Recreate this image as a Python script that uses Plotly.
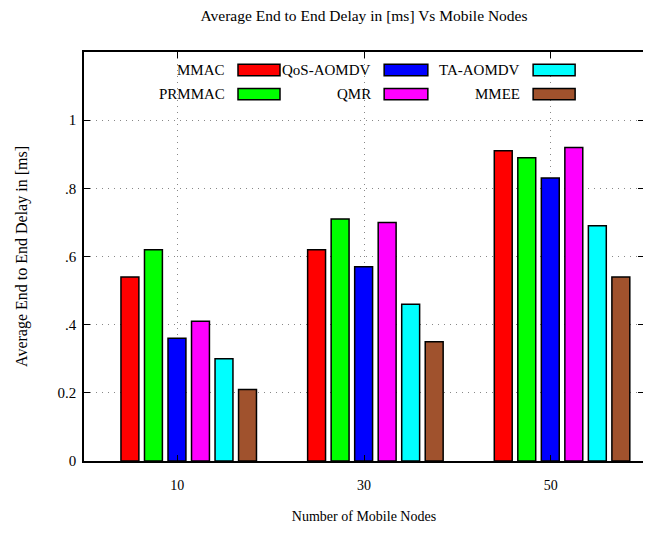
import plotly.graph_objects as go

categories = ["10", "30", "50"]
series_names = ["MMAC", "PRMMAC", "QoS-AOMDV", "QMR", "TA-AOMDV", "MMEE"]
mmac = [0.54, 0.62, 0.91]
prmmac = [0.62, 0.71, 0.89]
qos_aomdv = [0.36, 0.57, 0.83]
qmr = [0.41, 0.70, 0.92]
ta_aomdv = [0.30, 0.46, 0.69]
mmee = [0.21, 0.35, 0.54]
series_values = [mmac, prmmac, qos_aomdv, qmr, ta_aomdv, mmee]
colors = ["#ff0000", "#00ff00", "#0000ff", "#ff00ff", "#00ffff", "#a0522d"]
ytick_vals = [0, 0.2, 0.4, 0.6, 0.8, 1.0]
ytick_text = ["0", "0.2", ".4", ".6", ".8", "1"]

serif = "Liberation Serif, Times New Roman, serif"

# page body has an 8px margin: figure is drawn 8px smaller and offset
W, H = 643, 526

# bar layout (in category units): cluster starts left of the tick, as in the original
bar_width = 0.096
bar_pitch = 0.126
cluster_start = -0.302

fig = go.Figure()
for i, (name, vals, c) in enumerate(zip(series_names, series_values, colors)):
    fig.add_trace(go.Bar(x=categories, y=vals, name=name,
                         width=bar_width, offset=cluster_start + i * bar_pitch,
                         marker=dict(color=c, line=dict(color="black", width=1.5)),
                         showlegend=False))

# custom legend: text left of swatch, 2 rows x 3 columns (column-major order)
col_text_x = [0.255, 0.516, 0.782]
col_sw_x = [(0.275, 0.350), (0.536, 0.614), (0.802, 0.877)]
row_y = [0.956, 0.897]
sw_h = 0.014
for i, (name, c) in enumerate(zip(series_names, colors)):
    col, row = i // 2, i % 2
    fig.add_annotation(x=col_text_x[col], y=row_y[row], xref="paper", yref="paper", text=name,
                       showarrow=False, xanchor="right", yanchor="middle",
                       font=dict(family=serif, size=15, color="black"))
    fig.add_shape(type="rect", xref="paper", yref="paper", x0=col_sw_x[col][0], x1=col_sw_x[col][1],
                  y0=row_y[row] - sw_h, y1=row_y[row] + sw_h, fillcolor=c,
                  line=dict(color="black", width=1.5))

fig.update_layout(
    width=W, height=H,
    margin=dict(l=76, r=7, t=44, b=73, autoexpand=False),
    paper_bgcolor="white", plot_bgcolor="white",
    barmode="overlay",
    title=dict(text="Average End to End Delay in [ms] Vs Mobile Nodes", x=0.5, xanchor="center",
               y=1 - 8 / H, yanchor="middle", xref="paper",
               font=dict(family=serif, size=15.5, color="black")),
    font=dict(family=serif, size=14, color="black"),
)
fig.update_xaxes(
    automargin=False,
    showline=True, linecolor="black", linewidth=1.5, mirror="ticks",
    ticks="inside", ticklen=6, tickcolor="black", ticklabelstandoff=10,
    showgrid=True, gridcolor="#888888", griddash="1px,5px", gridwidth=1,
    tickfont=dict(family=serif, size=14, color="black"),
    title=dict(text="Number of Mobile Nodes", font=dict(family=serif, size=14), standoff=20),
)
fig.update_yaxes(
    automargin=False,
    range=[0, 1.2], tickvals=ytick_vals, ticktext=ytick_text,
    showline=True, linecolor="black", linewidth=1.5, mirror="ticks",
    ticks="inside", ticklen=6, tickcolor="black", ticklabelstandoff=3,
    showgrid=True, gridcolor="#888888", griddash="1px,5px", gridwidth=1, zeroline=False,
    tickfont=dict(family=serif, size=15, color="black"),
    title=dict(text="Average End to End Delay in [ms]", font=dict(family=serif, size=16), standoff=26),
)
fig.write_html("out.html")
